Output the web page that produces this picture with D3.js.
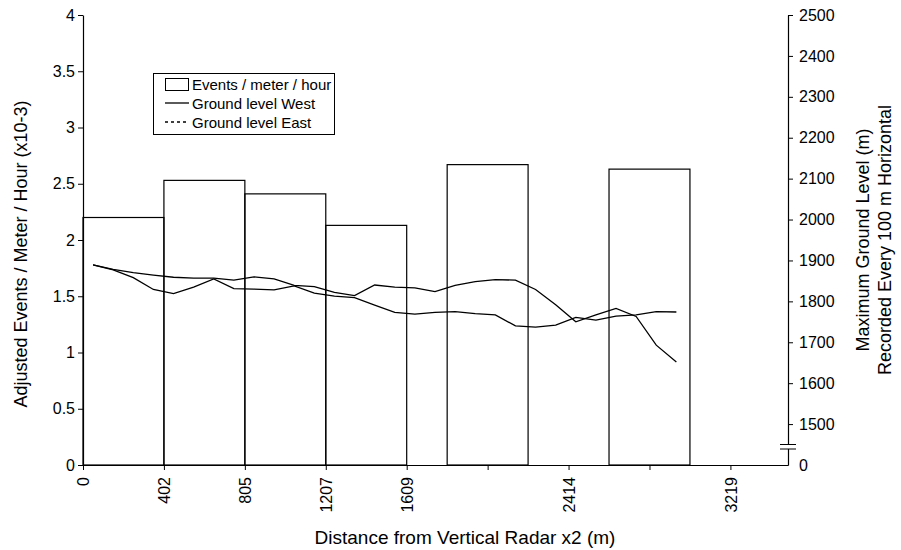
<!DOCTYPE html>
<html>
<head>
<meta charset="utf-8">
<script src="https://cdn.jsdelivr.net/npm/d3@7"></script>
<style>
  html, body { margin: 0; padding: 0; background: #fff; }
  svg { display: block; font-family: "Liberation Sans", Arial, sans-serif; }
</style>
</head>
<body>
<svg id="chart" width="901" height="550"></svg>
<script>
// ---- Data ----
const barStart = [0, 402.3, 804.7, 1207, 1810.5, 2615.2];
const barEnd   = [402.3, 804.7, 1207, 1609.3, 2212.8, 3017.5];
const eventsPerMeterHour = [2.2, 2.53, 2.41, 2.13, 2.67, 2.63];

const groundDist = [50, 150, 250, 350, 450, 550, 650, 750, 850, 950,
                    1050, 1150, 1250, 1350, 1450, 1550, 1650, 1750, 1850, 1950,
                    2050, 2150, 2250, 2350, 2450, 2550, 2650, 2750, 2850, 2950];
const groundWest = [1889, 1878, 1870, 1864, 1859, 1857, 1857, 1852, 1860, 1855,
                    1839, 1836, 1822, 1814, 1840, 1835, 1833, 1824, 1839, 1848,
                    1853, 1852, 1829, 1792, 1750, 1767, 1783, 1763, 1693, 1652];
const groundEast = [1889, 1877, 1858, 1829, 1819, 1835, 1855, 1831, 1830, 1828,
                    1838, 1820, 1813, 1809, 1791, 1773, 1769, 1773, 1775, 1770,
                    1767, 1740, 1737, 1742, 1761, 1754, 1764, 1767, 1775, 1774];

const xTickValues = [0, 402.3, 804.7, 1207, 1609.3, 2011.7, 2414, 2816.4, 3218.7];
const xTickLabels = ["0", "402", "805", "1207", "1609", "", "2414", "", "3219"];
const leftTickValues = [0, 0.5, 1, 1.5, 2, 2.5, 3, 3.5, 4];
const leftTickLabels = ["0", "0.5", "1", "1.5", "2", "2.5", "3", "3.5", "4"];
const rightTickValues = [1400, 1500, 1600, 1700, 1800, 1900, 2000, 2100, 2200, 2300, 2400, 2500];
const rightTickLabels = ["0", "1500", "1600", "1700", "1800", "1900", "2000", "2100", "2200", "2300", "2400", "2500"];

const legendLabels = ["Events / meter / hour", "Ground level West", "Ground level East"];
const xTitle = "Distance from Vertical Radar x2 (m)";
const yLeftTitle = "Adjusted Events / Meter / Hour (x10-3)";
const yRightTitle1 = "Maximum Ground Level (m)";
const yRightTitle2 = "Recorded Every 100 m Horizontal";

// ---- Layout ----
const plotL = 83, plotR = 788, plotT = 15, plotB = 465;
const svg = d3.select("#chart");

const x = d3.scaleLinear().domain([0, 3505]).range([plotL, plotR]);
const yL = d3.scaleLinear().domain([0, 4]).range([plotB, plotT]);
const yR = d3.scaleLinear().domain([1400, 2500]).range([plotB, plotT]);

const tickFont = 16;

// Bars (outline only)
svg.append("g").selectAll("rect")
  .data(eventsPerMeterHour)
  .join("rect")
  .attr("x", (d, i) => x(barStart[i]))
  .attr("width", (d, i) => x(barEnd[i]) - x(barStart[i]))
  .attr("y", d => yL(d))
  .attr("height", d => yL(0) - yL(d))
  .attr("fill", "none")
  .attr("stroke", "#000")
  .attr("stroke-width", 1.2);

// Lines
const line = vals => d3.line()
  .x((d, i) => x(groundDist[i]))
  .y(d => yR(d))(vals);

svg.append("path").attr("d", line(groundWest))
  .attr("fill", "none").attr("stroke", "#000").attr("stroke-width", 1.3);
svg.append("path").attr("d", line(groundEast))
  .attr("fill", "none").attr("stroke", "#000").attr("stroke-width", 1.3);

// Axes
const xAxis = d3.axisBottom(x).tickValues(xTickValues)
  .tickFormat((d, i) => xTickLabels[i]).tickSizeInner(5).tickSizeOuter(0);
const gx = svg.append("g").attr("transform", `translate(0,${plotB})`).call(xAxis);
gx.selectAll("text")
  .attr("transform", "rotate(-90)")
  .attr("x", -12).attr("y", 0).attr("dy", "0.35em")
  .style("text-anchor", "end");

const yLAxis = d3.axisLeft(yL).tickValues(leftTickValues)
  .tickFormat((d, i) => leftTickLabels[i]).tickSizeInner(5).tickSizeOuter(0);
const gyl = svg.append("g").attr("transform", `translate(${plotL},0)`).call(yLAxis);
gyl.selectAll("text").attr("x", -8);

const yRAxis = d3.axisRight(yR).tickValues(rightTickValues)
  .tickFormat((d, i) => rightTickLabels[i]).tickSizeInner(5).tickSizeOuter(0);
const gyr = svg.append("g").attr("transform", `translate(${plotR},0)`).call(yRAxis);
gyr.selectAll("text").attr("x", 11);
gyr.selectAll(".tick").filter(d => d === 1400).select("line").attr("x2", 0);

[gx, gyl, gyr].forEach(g => {
  g.select(".domain").attr("stroke", "#000").attr("stroke-width", 1.2);
  g.selectAll(".tick line").attr("stroke", "#000");
  g.selectAll("text").attr("fill", "#000")
    .style("font-family", "'Liberation Sans', Arial, sans-serif")
    .style("font-size", tickFont + "px");
});

// Axis break on right axis
const brk = svg.append("g");
brk.append("rect").attr("x", plotR - 8).attr("y", yR(1400) - 20.5)
  .attr("width", 16).attr("height", 4.5).attr("fill", "#fff");
[yR(1400) - 20.5, yR(1400) - 16].forEach(yy => {
  brk.append("line").attr("x1", plotR - 8).attr("x2", plotR + 8)
    .attr("y1", yy).attr("y2", yy).attr("stroke", "#000").attr("stroke-width", 1);
});

// Titles
svg.append("text").attr("x", 465).attr("y", 544)
  .attr("text-anchor", "middle").style("font-size", "19px").text(xTitle);
svg.append("text").attr("transform", `translate(27,${254}) rotate(-90)`)
  .attr("text-anchor", "middle").style("font-size", "18px").text(yLeftTitle);
svg.append("text").attr("transform", `translate(868.5,${240}) rotate(-90)`)
  .attr("text-anchor", "middle").style("font-size", "18px").text(yRightTitle1);
svg.append("text").attr("transform", `translate(890.5,${240}) rotate(-90)`)
  .attr("text-anchor", "middle").style("font-size", "18px").text(yRightTitle2);

// Legend
const lg = svg.append("g");
lg.append("rect").attr("x", 153.5).attr("y", 73.5).attr("width", 181).attr("height", 61)
  .attr("fill", "#fff").attr("stroke", "#000").attr("stroke-width", 1);
lg.append("rect").attr("x", 165.5).attr("y", 78.5).attr("width", 23).attr("height", 12)
  .attr("fill", "#fff").attr("stroke", "#000").attr("stroke-width", 1);
lg.append("line").attr("x1", 165).attr("x2", 189).attr("y1", 103).attr("y2", 103)
  .attr("stroke", "#000").attr("stroke-width", 1.3);
lg.append("line").attr("x1", 165).attr("x2", 189).attr("y1", 122).attr("y2", 122)
  .attr("stroke", "#000").attr("stroke-width", 1.3).attr("stroke-dasharray", "3,3");
lg.selectAll("text.lg").data(legendLabels).join("text")
  .attr("class", "lg")
  .attr("x", 192).attr("y", (d, i) => 89.5 + i * 19)
  .style("font-size", "15px").text(d => d);
</script>
</body>
</html>
